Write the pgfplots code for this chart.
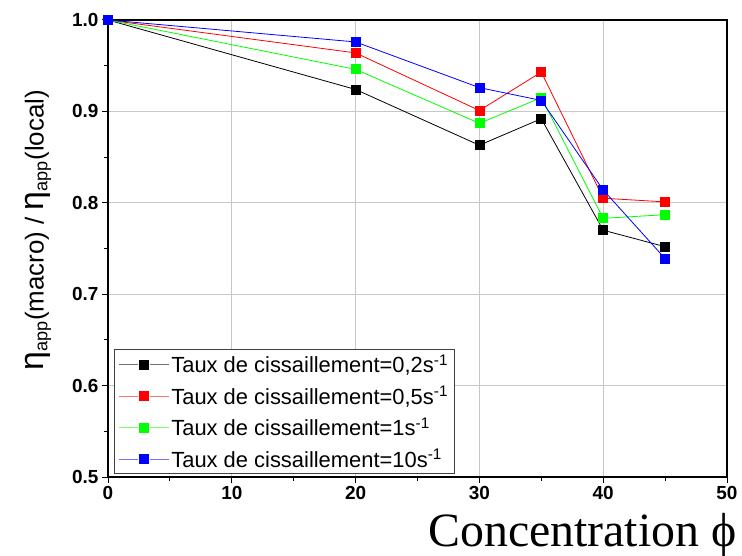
\documentclass[border=0pt]{standalone}
\usepackage{pgfplots}
\pgfplotsset{compat=1.18}
\usepackage{fontspec}
\setmainfont{Liberation Sans}
\newfontfamily\serif{Liberation Serif}
\begin{document}
\begin{tikzpicture}
\path[use as bounding box] (0,0) rectangle (742bp,556bp);
\begin{axis}[
  at={(108bp,79bp)}, anchor=south west,
  scale only axis, width=619bp, height=457bp,
  xmin=0, xmax=50, ymin=0.5, ymax=1.0,
  xtick={0,10,20,30,40,50}, ytick={0.5,0.6,0.7,0.8,0.9,1.0},
  minor x tick num=1, minor y tick num=1,
  tick pos=left, tick align=outside,
  major tick length=6bp, minor tick length=4bp,
  every tick/.style={black, line width=1bp},
  grid=major, major grid style={black!22, line width=0.8bp},
  axis line style={line width=1.4bp},
  /pgf/number format/assume math mode=true,
  ticklabel style={font=\fontsize{19}{22}\selectfont\bfseries},
  y tick label style={/pgf/number format/.cd, fixed, fixed zerofill, precision=1},
  xlabel={{\serif\fontsize{48}{50}\selectfont Concentration ϕ}},
  xlabel style={at={(axis description cs:1.021,0)}, anchor=north east, yshift=-33bp},
  ylabel={{\fontsize{26}{30}\selectfont{\fontsize{34}{36}\selectfont η}\textsubscript{app}(macro) / {\fontsize{34}{36}\selectfont η}\textsubscript{app}(local)}},
  ylabel style={at={(axis description cs:-0.113,0.54)}, anchor=center},
  legend cell align=left,
  legend style={at={(axis description cs:0.01,0.006)}, anchor=south west,
    draw=black!75, line width=0.8bp, font=\fontsize{22}{24}\selectfont,
    row sep=8bp, inner xsep=4bp, inner ysep=3bp},
  legend image code/.code={
    \draw[#1, mark=none, opacity=0.55] (0bp,0bp) -- (19bp,0bp);
    \draw[#1, mark=none, opacity=0.55] (31bp,0bp) -- (50bp,0bp);
    \draw[#1] plot coordinates {(25bp,0bp)};
  },
]
\addplot[color=black, line width=0.8bp, mark=square*, mark size=4.5bp, mark options={solid}]
  coordinates {(0,1.0) (20,0.924) (30,0.863) (35,0.892) (40,0.770) (45,0.752)};
\addlegendentry{Taux de cissaillement=0,2s\textsuperscript{-1}}
\addplot[color=red, line width=0.8bp, mark=square*, mark size=4.5bp, mark options={solid}]
  coordinates {(0,1.0) (20,0.964) (30,0.901) (35,0.943) (40,0.805) (45,0.801)};
\addlegendentry{Taux de cissaillement=0,5s\textsuperscript{-1}}
\addplot[color=green, line width=0.8bp, mark=square*, mark size=4.5bp, mark options={solid}]
  coordinates {(0,1.0) (20,0.946) (30,0.887) (35,0.915) (40,0.783) (45,0.787)};
\addlegendentry{Taux de cissaillement=1s\textsuperscript{-1}}
\addplot[color=blue, line width=0.8bp, mark=square*, mark size=4.5bp, mark options={solid}]
  coordinates {(0,1.0) (20,0.976) (30,0.926) (35,0.912) (40,0.814) (45,0.739)};
\addlegendentry{Taux de cissaillement=10s\textsuperscript{-1}}
\end{axis}
\end{tikzpicture}
\end{document}
